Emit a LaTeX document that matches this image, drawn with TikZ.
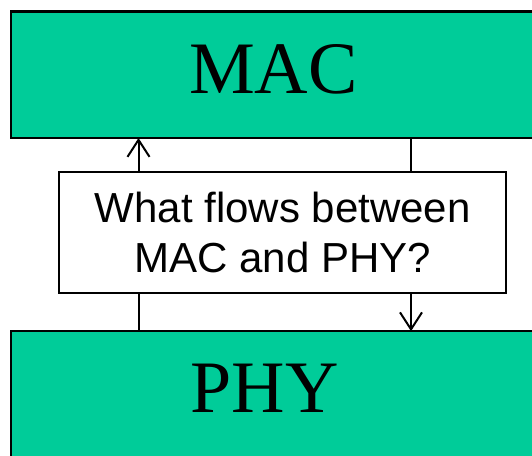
\documentclass[tikz,border=0pt]{standalone}
\usepackage{fontspec}
\setmainfont{Liberation Serif}
\newfontfamily\arialf{Liberation Sans}
\usetikzlibrary{arrows.meta}
\definecolor{boxgreen}{RGB}{0,204,153}
\begin{document}
\begin{tikzpicture}[x=1pt,y=-1pt,
  layer/.style={draw=black,line width=2.5pt,fill=boxgreen,rectangle,inner sep=0pt,outer sep=0pt,anchor=north west},
  layertext/.style={inner sep=0pt,font=\fontsize{74}{80}\selectfont},
  qbox/.style={draw=black,line width=2pt,fill=white,rectangle,inner sep=0pt,outer sep=0pt,align=center,
    minimum width=447pt,minimum height=121.5pt,font=\arialf\fontsize{42}{50}\selectfont},
  conn/.style={draw=black,line width=2pt},
  tip/.style={-{Straight Barb[length=17pt,width=22pt,line width=2pt]}}]
\useasboundingbox (0,0) rectangle (532,455);
\clip (0,0) rectangle (532,455);
\node[layer,minimum width=530pt,minimum height=126.7pt] (mac) at (11,11.3) {};
\node[layer,minimum width=530pt,minimum height=140pt] (phy) at (11,331.2) {};
\node[layertext] (mactext) at (273.5,69.5) {MAC};
\node[layertext] (phytext) at (264.5,388) {PHY};
\node[qbox] (q) at (282.8,232.5) {What flows between\\MAC and PHY?};
\coordinate (lx) at (138.5,0);
\coordinate (rx) at (411,0);
\draw[conn,tip] (q.north -| lx) -- (mac.south -| lx);
\draw[conn] (phy.north -| lx) -- (q.south -| lx);
\draw[conn] (mac.south -| rx) -- (q.north -| rx);
\draw[conn,tip] (q.south -| rx) -- (phy.north -| rx);
\end{tikzpicture}
\end{document}
